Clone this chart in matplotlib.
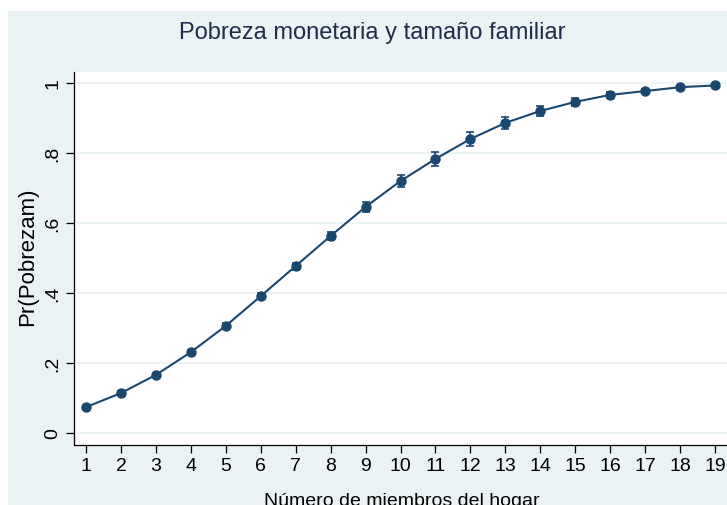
import matplotlib
matplotlib.use("Agg")
import matplotlib.pyplot as plt
from matplotlib.patches import Rectangle

# predicted probability by household size
miembros = list(range(1, 20))
prob = [0.074, 0.114, 0.166, 0.231, 0.306, 0.391, 0.477, 0.563, 0.646, 0.720,
        0.783, 0.840, 0.886, 0.920, 0.946, 0.966, 0.977, 0.988, 0.993]
# half-width of the confidence intervals
ci = [0.004, 0.005, 0.006, 0.007, 0.007, 0.008, 0.010, 0.012, 0.015, 0.017,
      0.019, 0.019, 0.017, 0.015, 0.011, 0.008, 0.006, 0.004, 0.003]
yticks = [0, 0.2, 0.4, 0.6, 0.8, 1]
ytick_labels = ["0", ".2", ".4", ".6", ".8", "1"]

plt.rcParams['font.family'] = ['Liberation Sans', 'DejaVu Sans']

navy = "#1a476f"
bg = "#eaf2f3"
txt = "#1e2d4a"
W, H = 727, 506

fig = plt.figure(figsize=(7.27, 5.06), dpi=100, facecolor="white")
# light panel behind the graph (the image is cropped on right/bottom)
fig.patches.append(Rectangle((8 / W, 0), 1, 1 - 12 / H, transform=fig.transFigure,
                             facecolor=bg, edgecolor="none", zorder=-10))

ax = fig.add_axes([74 / W, 1 - 446 / H, 1 - 74 / W, (446 - 73) / H])
ax.set_facecolor("white")

ax.errorbar(miembros, prob, yerr=ci, color=navy, lw=1.5, marker="o", ms=6.5,
            capsize=3, elinewidth=1.2, capthick=1.2, zorder=3)

ax.set_xlim(1 - 12 / 34.94, 19 + 12 / 34.94)
ax.set_ylim(-12 / 350, 1 + 11 / 350)
ax.set_xticks(miembros)
ax.set_xticklabels([str(m) for m in miembros], fontsize=14)
ax.set_yticks(yticks)
ax.set_yticklabels(ytick_labels, fontsize=14, rotation=90, va="center")
ax.grid(axis="y", color=bg, lw=1.2, zorder=0)

for s in ["top", "right"]:
    ax.spines[s].set_visible(False)
for s in ["left", "bottom"]:
    ax.spines[s].set_color("#000000")
    ax.spines[s].set_linewidth(0.9)
ax.tick_params(direction="out", length=6, width=0.9, colors="black", labelcolor="black")
ax.tick_params(axis="y", pad=3)
ax.tick_params(axis="x", pad=3)

fig.text(28 / W, 1 - 257 / H, "Pr(Pobrezam)", fontsize=16, rotation=90,
         color="black", ha="center", va="center")
fig.text(402 / W, 1 - 493 / H, "Número de miembros del hogar", fontsize=14,
         color="black", ha="center", va="top")
fig.text(372 / W, 1 - 33 / H, "Pobreza monetaria y tamaño familiar", fontsize=17,
         color=txt, ha="center", va="center")

fig.savefig("out.png", dpi=100, facecolor=fig.get_facecolor())
